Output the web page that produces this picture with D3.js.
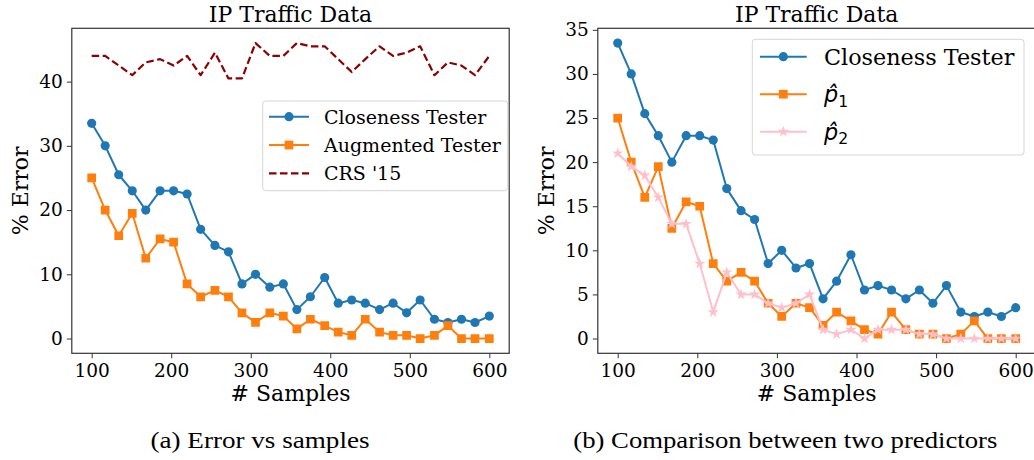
<!DOCTYPE html>
<html>
<head>
<meta charset="utf-8">
<script src="https://cdn.jsdelivr.net/npm/d3@7"></script>
<style>
  body { margin: 0; background: #fff; }
  svg { display: block; }
  .axis text { font-family: "DejaVu Serif", serif; fill: #000; }
  .axis path, .axis line { stroke: #333; }
</style>
</head>
<body>
<div id="chart"></div>
<script>
// --- data ---
const samples = [100, 117, 134, 151, 168, 186, 203, 220, 237, 255, 272, 289, 306, 324, 341,
                 358, 375, 393, 410, 427, 444, 462, 479, 496, 513, 531, 548, 565, 582, 600];

const closeness = [33.5, 30, 25.5, 23, 20, 23, 23, 22.5, 17, 14.5, 13.5, 8.5, 10, 8, 8.5,
                   4.5, 6.5, 9.5, 5.5, 6, 5.5, 4.5, 5.5, 4, 6, 3, 2.5, 3, 2.5, 3.5];

const augmented = [25, 20, 16, 19.5, 12.5, 15.5, 15, 8.5, 6.5, 7.5, 6.5, 4, 2.5, 4, 3.5,
                   1.5, 3, 2, 1, 0.5, 3, 1, 0.5, 0.5, 0, 0.5, 2, 0, 0, 0];

const crs15 = [44, 44, 42.5, 41, 43, 43.5, 42.5, 44, 41, 44.5, 40.5, 40.5, 46, 44, 44,
               46, 45.5, 45.5, 43.5, 41.5, 43.5, 45.5, 44, 44.5, 45.5, 41, 43, 42.5, 41, 44];

const p1 = augmented.slice();

const p2 = [21, 19.5, 18.5, 16, 13, 13, 8.5, 3, 7.5, 5, 5, 4, 3.5, 4, 5,
            1, 0.5, 1, 0, 1, 1, 1, 0.5, 0.5, 0, 0, 0, 0, 0, 0];

const xTicks = [100, 200, 300, 400, 500, 600];
const yTicksA = [0, 10, 20, 30, 40];
const yTicksB = [0, 5, 10, 15, 20, 25, 30, 35];

const W = 1034, H = 460;
const svg = d3.select("#chart").append("svg")
    .attr("width", W).attr("height", H);

const blue = "#1f77b4", orange = "#ff7f0e", pink = "#ffc0cb", darkred = "#8b0000";

function drawPanel(cfg) {
    const x = d3.scaleLinear().domain([75, 625]).range([cfg.left, cfg.right]);
    const y = d3.scaleLinear().domain(cfg.yDomain).range([353.3, 28.3]);

    const g = svg.append("g");
    const clipId = "clip" + cfg.id;
    g.append("clipPath").attr("id", clipId)
      .append("rect")
        .attr("x", cfg.left).attr("y", 28.3)
        .attr("width", cfg.right - cfg.left).attr("height", 325);

    const plot = g.append("g").attr("clip-path", `url(#${clipId})`);

    cfg.series.forEach(s => {
        const line = d3.line()
            .x((d, i) => x(samples[i]))
            .y(d => y(d));
        plot.append("path")
            .datum(s.values)
            .attr("fill", "none")
            .attr("stroke", s.color)
            .attr("stroke-width", s.dash ? 2.2 : 2)
            .attr("stroke-dasharray", s.dash ? "7.5,3.5" : null)
            .attr("stroke-linejoin", "round")
            .attr("d", line);
        if (s.symbol) {
            plot.selectAll(null)
                .data(s.values)
                .enter()
                .append("path")
                .attr("transform", (d, i) => `translate(${x(samples[i])},${y(d)})`)
                .attr("d", d3.symbol().type(s.symbol).size(s.size))
                .attr("fill", s.color);
        }
    });

    // frame
    g.append("rect")
        .attr("x", cfg.left).attr("y", 28.3)
        .attr("width", cfg.right - cfg.left).attr("height", 325)
        .attr("fill", "none").attr("stroke", "#333").attr("stroke-width", 1.2);

    const xAxis = g.append("g").attr("class", "axis")
        .attr("transform", "translate(0,353.3)")
        .call(d3.axisBottom(x).tickValues(xTicks).tickSize(5).tickPadding(5.3).tickSizeOuter(0));
    xAxis.select(".domain").remove();
    xAxis.selectAll("text").style("font-size", "18.5px");

    const yAxis = g.append("g").attr("class", "axis")
        .attr("transform", `translate(${cfg.left},0)`)
        .call(d3.axisLeft(y).tickValues(cfg.yTicks).tickSize(5).tickPadding(4).tickSizeOuter(0));
    yAxis.select(".domain").remove();
    yAxis.selectAll("text").style("font-size", "18.5px");

    const cx = (cfg.left + Math.min(cfg.right, W)) / 2;
    g.append("text")
        .attr("x", (cfg.left + cfg.right) / 2).attr("y", 22)
        .attr("text-anchor", "middle")
        .style("font-family", "DejaVu Serif").style("font-size", "22px")
        .text("IP Traffic Data");

    g.append("text")
        .attr("x", (cfg.left + cfg.right) / 2).attr("y", 401)
        .attr("text-anchor", "middle")
        .style("font-family", "DejaVu Serif").style("font-size", "22px")
        .text("# Samples");

    g.append("text")
        .attr("transform", `translate(${cfg.left - 44},190.8) rotate(-90)`)
        .attr("text-anchor", "middle")
        .style("font-family", "DejaVu Serif").style("font-size", "22px")
        .text("% Error");

    // legend
    const lg = g.append("g");
    const L = cfg.legend;
    lg.append("rect")
        .attr("x", L.x).attr("y", L.y).attr("width", L.w).attr("height", L.h)
        .attr("rx", 3)
        .attr("fill", "#fff").attr("fill-opacity", 0.8)
        .attr("stroke", "#d6d6d6").attr("stroke-width", 1);
    cfg.series.forEach((s, i) => {
        const ly = L.y0 + i * L.step;
        lg.append("line")
            .attr("x1", L.hx).attr("x2", L.hx + L.hw)
            .attr("y1", ly).attr("y2", ly)
            .attr("stroke", s.color).attr("stroke-width", s.dash ? 2.2 : 2)
            .attr("stroke-dasharray", s.dash ? "7.5,3.5" : null);
        if (s.symbol) {
            lg.append("path")
                .attr("transform", `translate(${L.hx + L.hw / 2},${ly})`)
                .attr("d", d3.symbol().type(s.symbol).size(s.size))
                .attr("fill", s.color);
        }
        const t = lg.append("text")
            .attr("x", L.tx).attr("y", ly)
            .attr("dy", "0.36em")
            .style("font-family", "DejaVu Serif")
            .style("font-size", L.fs + "px");
        if (s.sub) {
            t.append("tspan")
                .style("font-family", "DejaVu Sans").style("font-style", "italic")
                .text("p\u0302");
            t.append("tspan")
                .style("font-family", "DejaVu Sans")
                .style("font-size", (L.fs * 0.7) + "px")
                .attr("dy", "0.3em")
                .text(s.sub);
        } else {
            t.text(s.name);
        }
    });
}

drawPanel({
    id: "a", left: 71.8, right: 509.2,
    yDomain: [-2.3, 48.3], yTicks: yTicksA,
    series: [
        { name: "Closeness Tester", values: closeness, color: blue, symbol: d3.symbolCircle, size: 66 },
        { name: "Augmented Tester", values: augmented, color: orange, symbol: d3.symbolSquare, size: 76 },
        { name: "CRS '15", values: crs15, color: darkred, dash: true }
    ],
    legend: { x: 262.7, y: 101, w: 245, h: 89.7, y0: 116.7, step: 28.3, hx: 269, hw: 40, tx: 324, fs: 19 }
});

drawPanel({
    id: "b", left: 597.8, right: 1035.6,
    yDomain: [-1.675, 35.175], yTicks: yTicksB,
    series: [
        { name: "Closeness Tester", values: closeness, color: blue, symbol: d3.symbolCircle, size: 66 },
        { name: "p1", sub: "1", values: p1, color: orange, symbol: d3.symbolSquare, size: 76 },
        { name: "p2", sub: "2", values: p2, color: pink, symbol: d3.symbolStar, size: 40 }
    ],
    legend: { x: 752.3, y: 39.3, w: 271.7, h: 115.7, y0: 56.7, step: 37.5, hx: 760, hw: 46.7, tx: 824, fs: 22.3 }
});

// sub-figure captions
svg.append("text")
    .attr("x", 260).attr("y", 448)
    .attr("text-anchor", "middle")
    .attr("textLength", 219).attr("lengthAdjust", "spacingAndGlyphs")
    .style("font-family", "Liberation Serif").style("font-size", "23px")
    .text("(a) Error vs samples");

svg.append("text")
    .attr("x", 785.3).attr("y", 448)
    .attr("text-anchor", "middle")
    .attr("textLength", 424).attr("lengthAdjust", "spacingAndGlyphs")
    .style("font-family", "Liberation Serif").style("font-size", "23px")
    .text("(b) Comparison between two predictors");
</script>
</body>
</html>
